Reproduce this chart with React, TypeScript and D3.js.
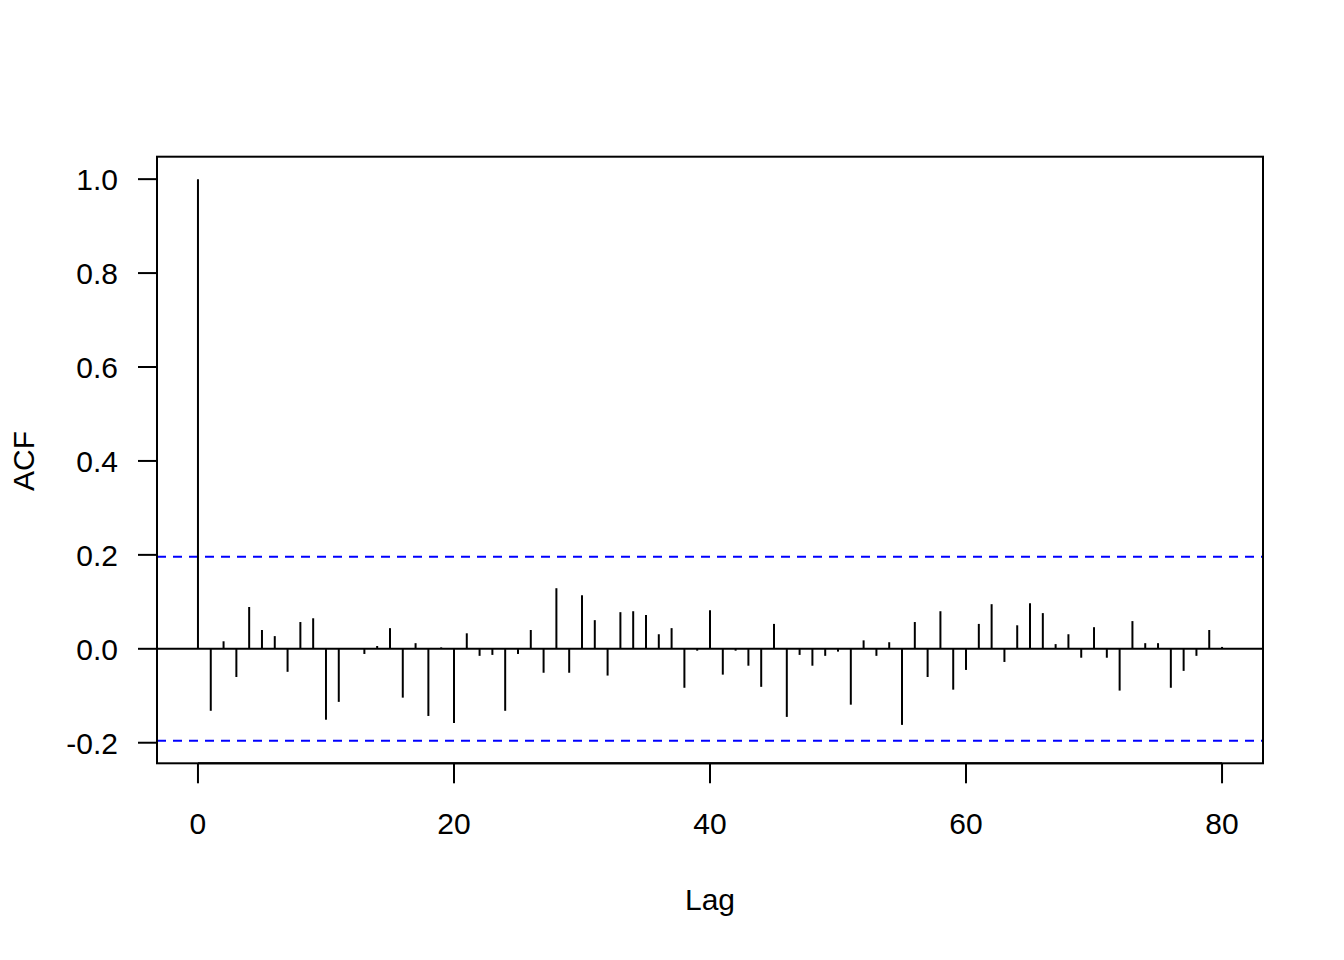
import React from "react";
import * as d3 from "d3";

const lags: number[] = Array.from({ length: 81 }, (_, i) => i);
const acfValues: number[] = [
  1.0, -0.132, 0.016, -0.06, 0.089, 0.04, 0.027, -0.049, 0.057, 0.065,
  -0.151, -0.113, 0.001, -0.011, 0.006, 0.044, -0.104, 0.012, -0.143, 0.003,
  -0.158, 0.033, -0.015, -0.013, -0.132, -0.011, 0.04, -0.051, 0.129, -0.051,
  0.114, 0.061, -0.057, 0.078, 0.08, 0.072, 0.031, 0.044, -0.083, -0.004,
  0.082, -0.055, -0.004, -0.036, -0.081, 0.053, -0.145, -0.013, -0.036, -0.015,
  -0.006, -0.119, 0.018, -0.015, 0.014, -0.162, 0.057, -0.06, 0.08, -0.087,
  -0.045, 0.053, 0.095, -0.028, 0.05, 0.097, 0.076, 0.01, 0.031, -0.019,
  0.046, -0.019, -0.089, 0.059, 0.012, 0.012, -0.083, -0.047, -0.015, 0.04,
  0.004,
];
const ciBound = 0.196;
const xTicks: number[] = [0, 20, 40, 60, 80];
const yTicks: number[] = [-0.2, 0.0, 0.2, 0.4, 0.6, 0.8, 1.0];
const xLabel = "Lag";
const yLabel = "ACF";

const W = 1344;
const H = 960;
const left = 157;
const right = 1263;
const top = 156.7;
const bottom = 763.3;
const font = "'Liberation Sans', Arial, sans-serif";
const fs = 30;

export default function App() {
  const x = d3.scaleLinear().domain([-3.2, 83.2]).range([left, right]);
  const y = d3.scaleLinear().domain([-0.2438, 1.0478]).range([bottom, top]);
  const tick = 19;
  return (
    <svg
      width={W}
      height={H}
      style={{ position: "absolute", left: 0, top: 0, background: "#fff" }}
    >
      <rect x={0} y={0} width={W} height={H} fill="#fff" />
      <line x1={left} x2={right} y1={y(0)} y2={y(0)} stroke="#000" strokeWidth={2} />
      {[ciBound, -ciBound].map((v, i) => (
        <line
          key={i}
          x1={left}
          x2={right}
          y1={y(v)}
          y2={y(v)}
          stroke="#0000ff"
          strokeWidth={2}
          strokeDasharray="9,7"
        />
      ))}
      {lags.map((l, i) => (
        <line
          key={l}
          x1={x(l)}
          x2={x(l)}
          y1={y(0)}
          y2={y(acfValues[i])}
          stroke="#000"
          strokeWidth={2}
        />
      ))}
      <rect
        x={left}
        y={top}
        width={right - left}
        height={bottom - top}
        fill="none"
        stroke="#000"
        strokeWidth={2}
      />
      <line x1={x(xTicks[0])} x2={x(xTicks[xTicks.length - 1])} y1={bottom} y2={bottom} stroke="#000" strokeWidth={2} />
      {xTicks.map((t) => (
        <g key={t}>
          <line x1={x(t)} x2={x(t)} y1={bottom} y2={bottom + tick + 1} stroke="#000" strokeWidth={2} />
          <text x={x(t)} y={834} textAnchor="middle" fontFamily={font} fontSize={fs} fill="#000">
            {t}
          </text>
        </g>
      ))}
      {yTicks.map((t) => (
        <g key={t}>
          <line x1={left - tick} x2={left} y1={y(t)} y2={y(t)} stroke="#000" strokeWidth={2} />
          <text
            x={118}
            y={y(t) + 11}
            textAnchor="end"
            fontFamily={font}
            fontSize={fs}
            fill="#000"
          >
            {t.toFixed(1)}
          </text>
        </g>
      ))}
      <text x={710} y={910} textAnchor="middle" fontFamily={font} fontSize={fs} fill="#000">
        {xLabel}
      </text>
      <text
        transform={`translate(34, ${y(0.4)}) rotate(-90)`}
        textAnchor="middle"
        fontFamily={font}
        fontSize={fs}
        fill="#000"
      >
        {yLabel}
      </text>
    </svg>
  );
}
